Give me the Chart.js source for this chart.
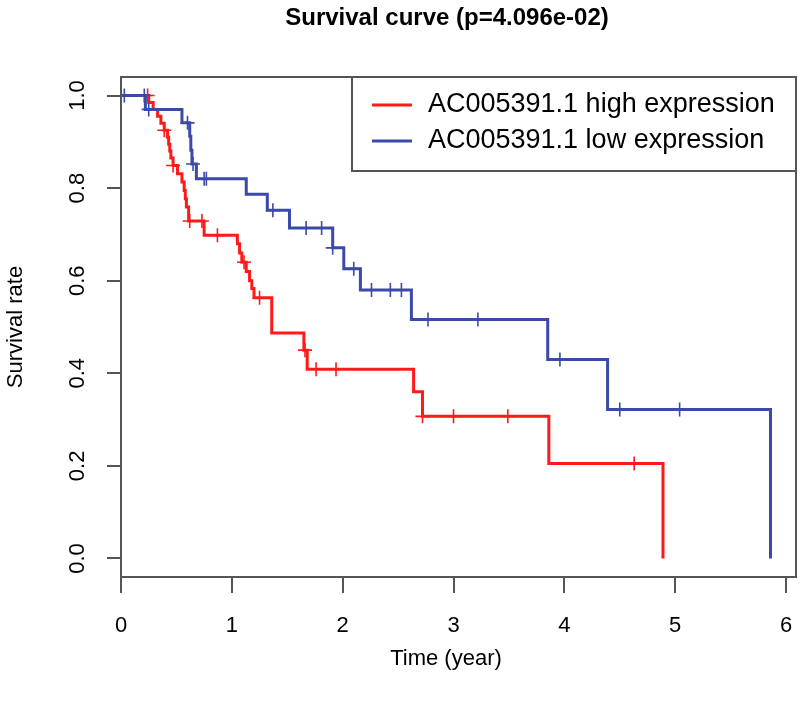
<!DOCTYPE html>
<html>
<head>
<meta charset="utf-8">
<script src="https://cdn.jsdelivr.net/npm/chart.js@4.4.0/dist/chart.umd.min.js"></script>
<style>
  html, body { margin: 0; padding: 0; background: #fff; }
  #wrap { width: 800px; height: 705px; }
</style>
</head>
<body>
<div id="wrap"><canvas id="km" width="800" height="705"></canvas></div>
<script>
// Kaplan-Meier curves (time in years, survival after each drop)
const highTimes = [0.25, 0.29, 0.33, 0.36, 0.39, 0.42, 0.43, 0.44, 0.45, 0.47, 0.51, 0.55, 0.57, 0.58, 0.59, 0.61,
                   0.75, 1.05, 1.07, 1.09, 1.13, 1.16, 1.18, 1.20, 1.36, 1.65, 1.68, 2.64, 2.72, 3.86, 4.89];
const highSurv  = [0.985, 0.970, 0.955, 0.940, 0.925, 0.910, 0.895, 0.880, 0.865, 0.849, 0.831, 0.813, 0.795, 0.777, 0.759, 0.729,
                   0.698, 0.680, 0.660, 0.640, 0.620, 0.600, 0.583, 0.563, 0.487, 0.450, 0.409, 0.360, 0.307, 0.205, 0];
const highCensor = [0.24, 0.39, 0.47, 0.62, 0.73, 0.87, 1.11, 1.25, 1.66, 1.76, 1.94, 2.72, 3.00, 3.49, 4.63];

const lowTimes = [0.22, 0.55, 0.62, 0.63, 0.64, 0.68, 1.13, 1.32, 1.52, 1.91, 2.01, 2.16, 2.62, 3.85, 4.39, 5.86];
const lowSurv  = [0.970, 0.941, 0.912, 0.882, 0.852, 0.820, 0.787, 0.752, 0.714, 0.671, 0.626, 0.580, 0.516, 0.430, 0.322, 0];
const lowCensor = [0.03, 0.21, 0.25, 0.60, 0.65, 0.75, 0.77, 1.37, 1.67, 1.81, 1.91, 2.10, 2.26, 2.43, 2.53, 2.77, 3.22,
                   3.96, 4.50, 5.04];

const xTicks = [0, 1, 2, 3, 4, 5, 6];
const yTicks = [0, 0.2, 0.4, 0.6, 0.8, 1.0];

const seriesNames = ['AC005391.1 high expression', 'AC005391.1 low expression'];
const RED = '#ff1a1a';
const BLUE = '#3b4aa8';
const AXIS = '#555555';
const FONT = "'Liberation Sans', Arial, sans-serif";

function stepPoints(times, surv) {
    const pts = [{ x: 0, y: 1 }];
    times.forEach((t, i) => pts.push({ x: t, y: surv[i] }));
    return pts;
}

function survAt(times, surv, t) {
    let s = 1;
    times.forEach((tt, i) => { if (tt <= t) s = surv[i]; });
    return s;
}

function censorPoints(censor, times, surv) {
    return censor.map(t => ({ x: t, y: survAt(times, surv, t) }));
}

// titles, box and legend, drawn R-style
const decorPlugin = {
    id: 'decor',
    afterDraw(chart) {
        const { ctx, chartArea: a } = chart;
        ctx.save();
        ctx.strokeStyle = AXIS;
        ctx.lineWidth = 2;
        ctx.strokeRect(a.left, a.top, a.right - a.left, a.bottom - a.top);

        ctx.fillStyle = '#000';
        ctx.textAlign = 'center';
        ctx.textBaseline = 'middle';
        ctx.font = 'bold 24px ' + FONT;
        ctx.fillText('Survival curve (p=4.096e-02)', 447, 18);

        ctx.font = '22px ' + FONT;
        ctx.fillText('Time (year)', 446, 659);
        ctx.save();
        ctx.translate(16, 327);
        ctx.rotate(-Math.PI / 2);
        ctx.fillText('Survival rate', 0, 0);
        ctx.restore();

        // legend
        const lx = 352, ly = a.top, lw = a.right - lx, lh = 94;
        ctx.fillStyle = '#fff';
        ctx.fillRect(lx, ly, lw, lh);
        ctx.strokeStyle = AXIS;
        ctx.strokeRect(lx, ly, lw, lh);
        [RED, BLUE].forEach((c, i) => {
            const y = ly + 28 + i * 36;
            ctx.strokeStyle = c;
            ctx.lineWidth = 3;
            ctx.beginPath();
            ctx.moveTo(372, y);
            ctx.lineTo(412, y);
            ctx.stroke();
            ctx.fillStyle = '#000';
            ctx.textAlign = 'left';
            ctx.font = '27px ' + FONT;
            ctx.fillText(seriesNames[i], 428, y);
        });
        ctx.restore();
    }
};

new Chart(document.getElementById('km'), {
    type: 'line',
    data: {
        datasets: [
            { data: stepPoints(lowTimes, lowSurv), borderColor: BLUE, borderWidth: 3, stepped: 'before',
              pointRadius: 0, fill: false, order: 0 },
            { data: censorPoints(lowCensor, lowTimes, lowSurv), borderColor: BLUE, showLine: false,
              pointStyle: 'cross', pointRadius: 7, pointBorderWidth: 1.6, order: 0 },
            { data: stepPoints(highTimes, highSurv), borderColor: RED, borderWidth: 3, stepped: 'before',
              pointRadius: 0, fill: false, order: 1 },
            { data: censorPoints(highCensor, highTimes, highSurv), borderColor: RED, showLine: false,
              pointStyle: 'cross', pointRadius: 7, pointBorderWidth: 1.6, order: 1 }
        ]
    },
    options: {
        responsive: false,
        animation: false,
        layout: { autoPadding: false, padding: { top: 77, right: 4, left: 0, bottom: 0 } },
        plugins: { legend: { display: false }, tooltip: { enabled: false }, title: { display: false } },
        scales: {
            x: {
                type: 'linear',
                min: 0,
                max: 6.09,
                afterBuildTicks: s => { s.ticks = xTicks.map(v => ({ value: v })); },
                afterFit: s => { s.height = 128; s.paddingLeft = 0; s.paddingRight = 0; },
                grid: { drawOnChartArea: false, tickLength: 16, color: AXIS, lineWidth: 2 },
                border: { display: true, color: AXIS, width: 2 },
                ticks: { color: '#000', font: { family: FONT, size: 22 }, padding: 20, maxRotation: 0,
                         callback: v => String(v) }
            },
            y: {
                type: 'linear',
                min: -0.04,
                max: 1.04,
                afterBuildTicks: s => { s.ticks = yTicks.map(v => ({ value: v })); },
                afterFit: s => { s.width = 121; s.paddingTop = 0; s.paddingBottom = 0; },
                grid: { drawOnChartArea: false, tickLength: 14, color: AXIS, lineWidth: 2 },
                border: { display: true, color: AXIS, width: 2 },
                ticks: { color: '#000', font: { family: FONT, size: 22 }, padding: 14, minRotation: 90, maxRotation: 90,
                         crossAlign: 'center', callback: v => v.toFixed(1) }
            }
        }
    },
    plugins: [decorPlugin]
});
</script>
</body>
</html>
